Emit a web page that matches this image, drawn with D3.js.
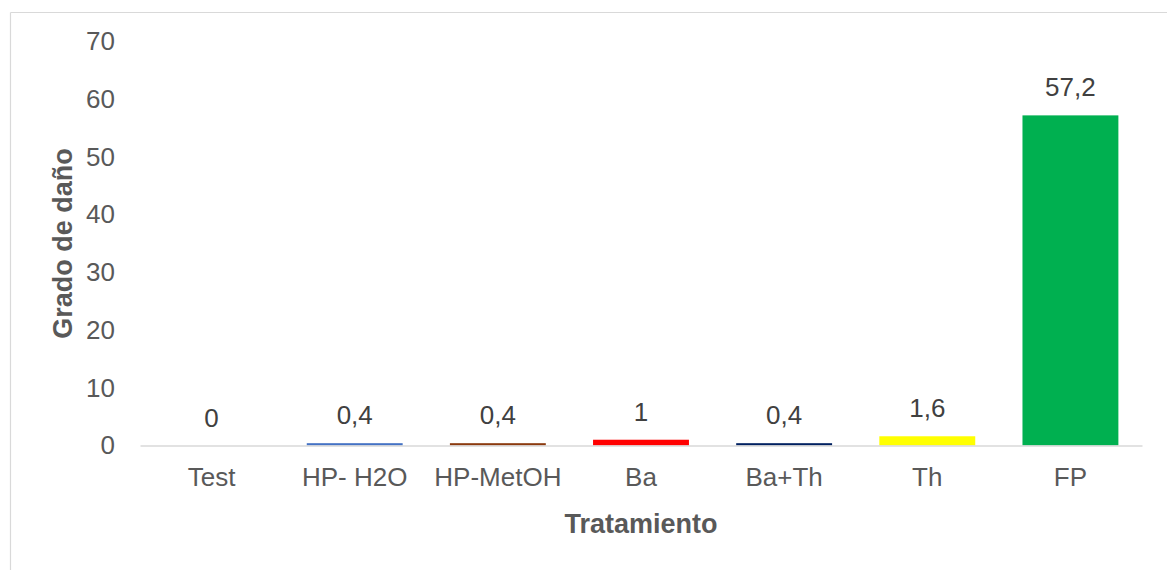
<!DOCTYPE html>
<html>
<head>
<meta charset="utf-8">
<script src="https://cdn.jsdelivr.net/npm/d3@7"></script>
<style>
  html, body { margin: 0; padding: 0; background: #fff; }
  svg { display: block; font-family: "Liberation Sans", Arial, sans-serif; }
</style>
</head>
<body>
<svg id="chart" width="1167" height="570"></svg>
<script>
// Treatments, damage degree per treatment, bar fills and value-axis ticks
const categories = ["Test", "HP- H2O", "HP-MetOH", "Ba", "Ba+Th", "Th", "FP"];
const values = [0, 0.4, 0.4, 1, 0.4, 1.6, 57.2];
const valueLabels = ["0", "0,4", "0,4", "1", "0,4", "1,6", "57,2"];
const barColors = ["#4472C4", "#4472C4", "#8B3A0E", "#FF0000", "#002060", "#FFFF00", "#00B050"];
const yTicks = [0, 10, 20, 30, 40, 50, 60, 70];

const svg = d3.select("#chart");
const W = 1167, H = 570;
const margin = { left: 140, right: 25, top: 41.5, bottom: 124.5 };
const plotW = W - margin.left - margin.right;
const plotH = H - margin.top - margin.bottom;
const FONT = "Liberation Sans, Arial, sans-serif";

// outer chart frame (only top and left edges fall inside the view)
svg.append("line").attr("x1", 10.5).attr("x2", W).attr("y1", 12.5).attr("y2", 12.5)
  .attr("stroke", "#d9d9d9").attr("stroke-width", 1.2);
svg.append("line").attr("x1", 10.5).attr("x2", 10.5).attr("y1", 12.5).attr("y2", H)
  .attr("stroke", "#d9d9d9").attr("stroke-width", 1.2);

const g = svg.append("g").attr("transform", `translate(${margin.left},${margin.top})`);

const x = d3.scaleBand().domain(categories).range([0, plotW]).paddingInner(0.33).paddingOuter(0.165);
const y = d3.scaleLinear().domain([0, 70]).range([plotH, 0]);

// value axis: labels only
const yAxis = d3.axisLeft(y).tickValues(yTicks).tickSize(0).tickPadding(25);
const yg = g.append("g").call(yAxis);
yg.select(".domain").remove();
yg.selectAll("text").attr("font-size", 26).attr("fill", "#595959").attr("font-family", FONT);

// bars
g.selectAll("rect.bar").data(categories).enter().append("rect")
  .attr("class", "bar")
  .attr("x", d => x(d))
  .attr("width", x.bandwidth())
  .attr("y", (d, i) => y(values[i]))
  .attr("height", (d, i) => plotH - y(values[i]))
  .attr("fill", (d, i) => barColors[i]);

// category axis
const xAxis = d3.axisBottom(x).tickSize(0).tickPadding(22);
const xg = g.append("g").attr("transform", `translate(0,${plotH})`).call(xAxis);
xg.select(".domain").attr("stroke", "#d9d9d9").attr("stroke-width", 1.5);
xg.selectAll("text").attr("font-size", 26).attr("fill", "#595959").attr("font-family", FONT);

// data labels
g.selectAll("text.vlabel").data(categories).enter().append("text")
  .attr("class", "vlabel")
  .attr("x", d => x(d) + x.bandwidth() / 2)
  .attr("y", (d, i) => y(values[i]) - 19)
  .attr("text-anchor", "middle")
  .attr("font-size", 26)
  .attr("font-family", FONT)
  .attr("fill", "#404040")
  .text((d, i) => valueLabels[i]);

// axis titles
svg.append("text")
  .attr("x", 641).attr("y", 533)
  .attr("text-anchor", "middle")
  .attr("font-size", 27).attr("font-weight", "bold").attr("fill", "#595959")
  .attr("font-family", FONT)
  .text("Tratamiento");

svg.append("text")
  .attr("transform", `translate(72,${margin.top + plotH / 2}) rotate(-90)`)
  .attr("text-anchor", "middle")
  .attr("font-size", 27).attr("font-weight", "bold").attr("fill", "#595959")
  .attr("font-family", FONT)
  .text("Grado de daño");
</script>
</body>
</html>
